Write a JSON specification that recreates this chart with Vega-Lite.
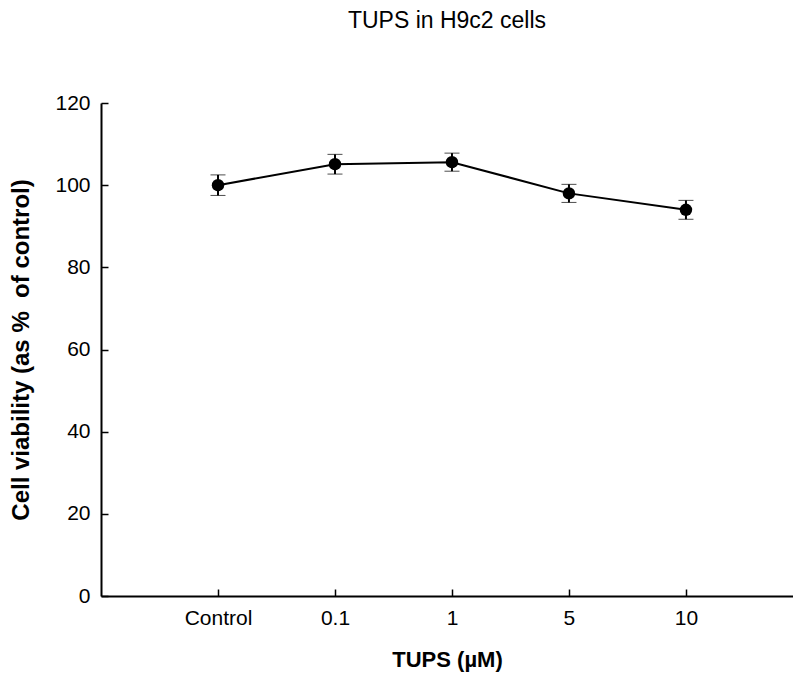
{
  "$schema": "https://vega.github.io/schema/vega-lite/v6.json",
  "width": 692,
  "height": 493,
  "autosize": {"type": "none"},
  "padding": {"left": 101, "top": 103, "right": 0, "bottom": 82},
  "background": "white",
  "config": {
    "view": {"stroke": null},
    "font": "Liberation Sans",
    "axis": {"grid": false, "domainColor": "black", "domainWidth": 2, "tickColor": "black", "tickWidth": 1.5, "labelColor": "black", "titleColor": "black", "labelFont": "Liberation Sans", "titleFont": "Liberation Sans", "labelFontSize": 21, "titleFontSize": 23, "titleFontWeight": "bold"}
  },
  "title": {"text": "TUPS in H9c2 cells", "fontSize": 23, "fontWeight": "normal", "font": "Liberation Sans", "color": "black", "anchor": "middle", "offset": 59},
  "data": {
    "values": [
      {"pos": 1, "dose": "Control", "mean": 100.0, "err": 2.5},
      {"pos": 2, "dose": "0.1", "mean": 105.1, "err": 2.4},
      {"pos": 3, "dose": "1", "mean": 105.6, "err": 2.2},
      {"pos": 4, "dose": "5", "mean": 98.0, "err": 2.2},
      {"pos": 5, "dose": "10", "mean": 94.0, "err": 2.3}
    ]
  },
  "encoding": {
    "x": {
      "field": "pos", "type": "quantitative",
      "scale": {"domain": [0, 5.915], "nice": false, "zero": false},
      "axis": {"title": "TUPS (µM)", "titleFontSize": 22, "values": [1, 2, 3, 4, 5], "tickSize": -7, "labelPadding": 18, "titlePadding": 21,
        "labelExpr": "datum.value == 1 ? 'Control' : datum.value == 2 ? '0.1' : datum.value == 3 ? '1' : datum.value == 4 ? '5' : '10'"}
    }
  },
  "layer": [
    {
      "mark": {"type": "line", "color": "black", "strokeWidth": 2},
      "encoding": {"y": {"field": "mean", "type": "quantitative", "scale": {"domain": [0, 120], "nice": false},
        "axis": {"title": "Cell viability (as %\u00a0 of control)", "titleFontSize": 24, "values": [0, 20, 40, 60, 80, 100, 120], "tickSize": -7, "labelPadding": 18, "titlePadding": 21}}}
    },
    {
      "mark": {"type": "errorbar", "ticks": {"size": 15, "color": "black", "strokeWidth": 2.5}, "rule": {"color": "black", "strokeWidth": 2}},
      "encoding": {"y": {"field": "mean", "type": "quantitative", "title": "Cell viability (as %\u00a0 of control)"}, "yError": {"field": "err"}}
    },
    {
      "mark": {"type": "point", "filled": true, "color": "black", "opacity": 1, "size": 155},
      "encoding": {"y": {"field": "mean", "type": "quantitative"}}
    }
  ]
}
